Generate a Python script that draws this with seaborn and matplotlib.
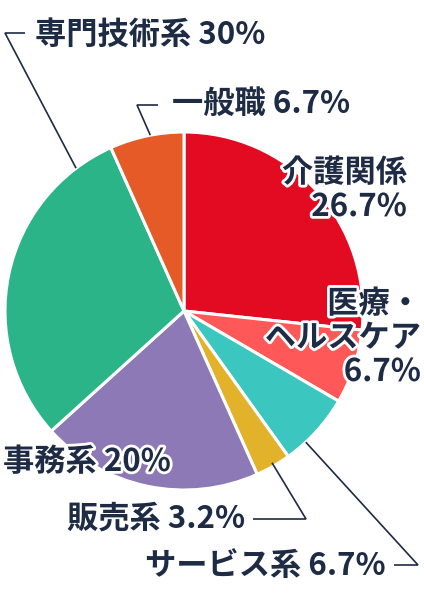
import matplotlib
matplotlib.use("Agg")
import matplotlib.pyplot as plt
import matplotlib.patheffects as pe
import numpy as np
import seaborn as sns

sns.set_theme(style="white")
plt.rcParams['font.family'] = ['Noto Sans CJK JP', 'DejaVu Sans']

# ---- data ----
categories = ["介護関係", "医療・ヘルスケア", "サービス系", "販売系", "事務系", "専門技術系", "一般職"]
values = [26.7, 6.7, 6.7, 3.2, 20.0, 30.0, 6.7]
label_texts = ["介護関係\n26.7%", "医療・\nヘルスケア\n6.7%", "サービス系 6.7%", "販売系 3.2%",
               "事務系 20%", "専門技術系 30%", "一般職 6.7%"]
colors = ["#E20B22", "#FF5858", "#3CC6C0", "#E3B22B", "#8C79B6", "#2BB488", "#E55A27"]

TEXT = "#1E2B44"
W, H = 424, 600

fig = plt.figure(figsize=(W / 100, H / 100), dpi=100)
ax = fig.add_axes([0, 0, 1, 1])

cx, cy, R = 184, H - 311, 179
wedges, _ = ax.pie(values, colors=colors, startangle=90, counterclock=False,
                   center=(cx, cy), radius=R, frame=True,
                   wedgeprops=dict(edgecolor="white", linewidth=2.2))
ax.set_xlim(0, W)
ax.set_ylim(0, H)
ax.set_aspect("equal")
ax.axis("off")

FS = 22.5
outline = [pe.withStroke(linewidth=4, foreground="white")]


def edge_point(i, frac=0.5, r=1.0):
    w = wedges[i]
    ang = np.deg2rad(w.theta1 + (w.theta2 - w.theta1) * frac)
    return cx + R * r * np.cos(ang), cy + R * r * np.sin(ang)


def py(y):
    return H - y


kw = dict(fontsize=FS, fontweight="bold", color=TEXT)

# inside labels
ax.text(407, py(190), label_texts[0], ha="right", va="center", linespacing=1.08,
        path_effects=outline, **kw)
ax.text(421, py(338), label_texts[1], ha="right", va="center", linespacing=1.08,
        path_effects=outline, **kw)
ax.text(3, py(462), label_texts[4], ha="left", va="center", path_effects=outline, **kw)

# outside labels with leader lines
ax.text(35, py(35), label_texts[5], ha="left", va="center", **kw)
ax.text(172, py(104), label_texts[6], ha="left", va="center", **kw)
ax.text(245, py(519), label_texts[3], ha="right", va="center", **kw)
ax.text(386, py(566), label_texts[2], ha="right", va="center", **kw)

LC = dict(color=TEXT, linewidth=1.2, solid_capstyle="butt", solid_joinstyle="miter")
# 専門技術系
ex, ey = edge_point(5, 0.12)
ax.plot([25, 5, ex], [py(33), py(33), ey], **LC)
# 一般職
ex, ey = edge_point(6, 0.45)
ax.plot([158, 137, ex], [py(105), py(105), ey], **LC)
# 販売系
ex, ey = edge_point(3, 0.52, 0.98)
ax.plot([253, 306, ex], [py(519), py(519), ey], **LC)
# サービス系
ex, ey = edge_point(2, 0.3)
ax.plot([394, 418, ex], [py(565), py(565), ey], **LC)

fig.savefig("out.png", dpi=100, facecolor="white")
